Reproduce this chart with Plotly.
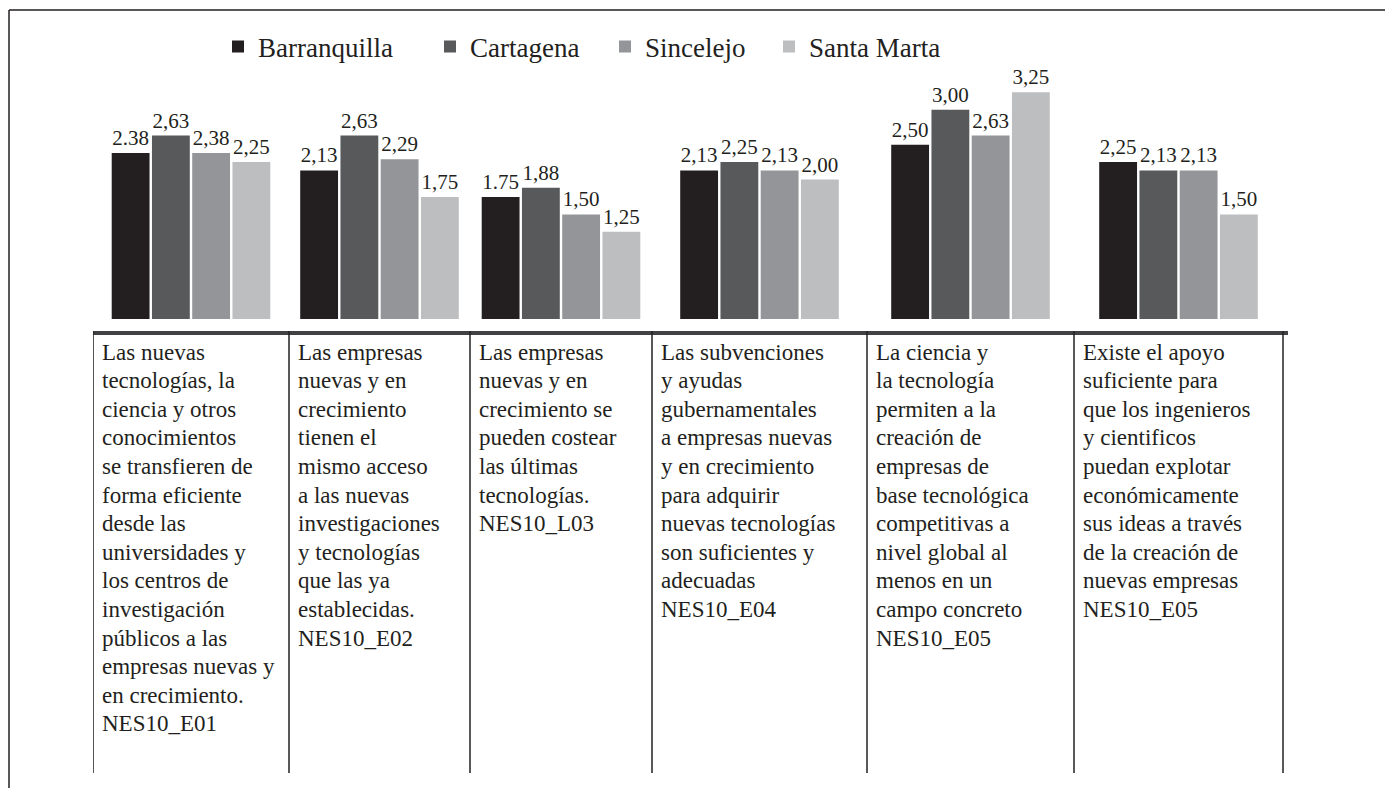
import numpy as np
import plotly.graph_objects as go

# category texts (line breaks as in the original table)
categories = [
    "Las nuevas\ntecnologías, la\nciencia y otros\nconocimientos\nse transfieren de\nforma eficiente\ndesde las\nuniversidades y\nlos centros de\ninvestigación\npúblicos a las\nempresas nuevas y\nen crecimiento.\nNES10_E01",
    "Las empresas\nnuevas y en\ncrecimiento\ntienen el\nmismo acceso\na las nuevas\ninvestigaciones\ny tecnologías\nque las ya\nestablecidas.\nNES10_E02",
    "Las empresas\nnuevas y en\ncrecimiento se\npueden costear\nlas últimas\ntecnologías.\nNES10_L03",
    "Las subvenciones\ny ayudas\ngubernamentales\na empresas nuevas\ny en crecimiento\npara adquirir\nnuevas tecnologías\nson suficientes y\nadecuadas\nNES10_E04",
    "La ciencia y\nla tecnología\npermiten a la\ncreación de\nempresas de\nbase tecnológica\ncompetitivas a\nnivel global al\nmenos en un\ncampo concreto\nNES10_E05",
    "Existe el apoyo\nsuficiente para\nque los ingenieros\ny cientificos\npuedan explotar\neconómicamente\nsus ideas a través\nde la creación de\nnuevas empresas\nNES10_E05",
]

cities = ["Barranquilla", "Cartagena", "Sincelejo", "Santa Marta"]
barranquilla = [2.38, 2.13, 1.75, 2.13, 2.50, 2.25]
cartagena = [2.63, 2.63, 1.88, 2.25, 3.00, 2.13]
sincelejo = [2.38, 2.29, 1.50, 2.13, 2.63, 2.13]
santa_marta = [2.25, 1.75, 1.25, 2.00, 3.25, 1.50]
# the source prints a few labels with a point instead of a comma
barranquilla_sep = [".", ",", ".", ",", ",", ","]

colors = ["#231f20", "#58595b", "#939598", "#bcbec0"]
ink = "#231f20"
serif = "Liberation Serif, Times New Roman, serif"

# table column widths (px) below the axis, as laid out in the source
col_widths = [196, 181, 182, 215, 207, 209]
edges = np.concatenate([[0], np.cumsum(col_widths)])
centers = (edges[:-1] + edges[1:]) / 2

# page body adds 8px, so the figure is 8px smaller than the window
W, H = 1385, 780
ml, mr, mt, mb = 85, 105, 32, 457
plot_w = W - ml - mr
plot_h = H - mt - mb
px_per_unit = 69.75
y_low = -12 / px_per_unit
y_high = y_low + plot_h / px_per_unit

def fmt(vals, seps=None):
    seps = seps or [","] * len(vals)
    return [f"{v:.2f}".replace(".", s) for v, s in zip(vals, seps)]

series = [
    (barranquilla, fmt(barranquilla, barranquilla_sep)),
    (cartagena, fmt(cartagena)),
    (sincelejo, fmt(sincelejo)),
    (santa_marta, fmt(santa_marta)),
]

# one legend per city so each entry sits where the source puts it
legend_left = [210, 422, 597, 761]
legend_names = ["legend", "legend2", "legend3", "legend4"]

fig = go.Figure()
for name, (vals, labels), col, lg in zip(cities, series, colors, legend_names):
    fig.add_trace(go.Bar(
        x=centers, y=vals, name=name, legend=lg, showlegend=True,
        marker=dict(color=col, line=dict(width=0)),
        text=labels, textposition="outside", textangle=0,
        textfont=dict(family=serif, size=21, color=ink),
        cliponaxis=False,
    ))

legend_style = dict(
    orientation="h", xref="container", yref="container", xanchor="left",
    y=1 - 39 / H, yanchor="middle", bgcolor="rgba(0,0,0,0)",
    font=dict(family=serif, size=27, color=ink),
)

fig.update_layout(
    width=W, height=H, showlegend=True,
    margin=dict(l=ml, r=mr, t=mt, b=mb, autoexpand=False),
    paper_bgcolor="white", plot_bgcolor="white",
    barmode="group", bargap=0.113, bargroupgap=0.06,
    font=dict(family=serif, color=ink),
    xaxis=dict(range=[0, sum(col_widths) + 5], showgrid=False, zeroline=False,
               showticklabels=False, ticks="", showline=True,
               linecolor="#414042", linewidth=4),
    yaxis=dict(range=[y_low, y_high], visible=False, showgrid=False),
)
for lg, left in zip(legend_names, legend_left):
    fig.update_layout({lg: dict(legend_style, x=left / W)})

# column dividers below the axis
bottom = -(765 - (H - mb)) / plot_h
for e in edges:
    fig.add_shape(type="line", xref="x", yref="paper", x0=e, x1=e,
                  y0=0, y1=bottom, line=dict(color=ink, width=1.5))

# category text inside each column, one line at a time
line_step = 28.6
for left, txt in zip(edges[:-1], categories):
    for i, line in enumerate(txt.split("\n")):
        fig.add_annotation(
            x=left + 7, y=0, xref="x", yref="paper", xanchor="left",
            yanchor="middle", yshift=-(21 + i * line_step),
            text=line, showarrow=False, align="left",
            font=dict(family=serif, size=23, color=ink),
        )

# frame (top and left edges of the source figure)
fx = (1 - ml) / plot_w
fy = ((H - mb) - 2) / plot_h
fig.add_shape(type="line", xref="paper", yref="paper", x0=fx, x1=2, y0=fy, y1=fy,
              line=dict(color=ink, width=1.5))
fig.add_shape(type="line", xref="paper", yref="paper", x0=fx, x1=fx, y0=fy, y1=-5,
              line=dict(color=ink, width=1.5))

fig.write_html("out.html")
